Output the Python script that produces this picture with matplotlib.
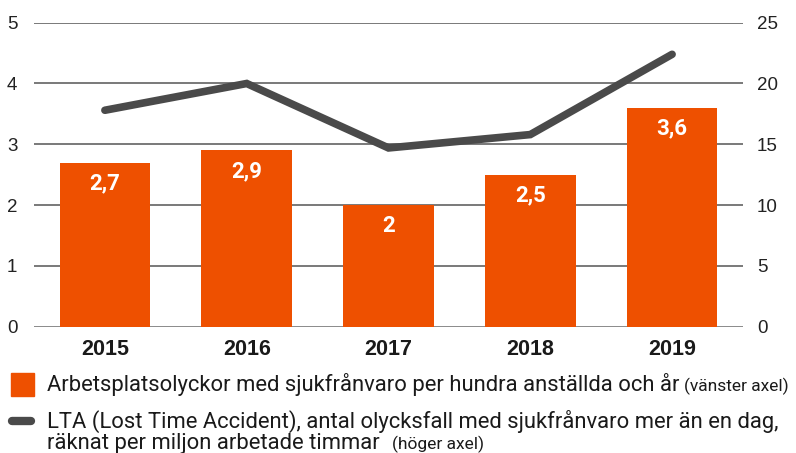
import matplotlib
matplotlib.use("Agg")
import matplotlib.pyplot as plt
from matplotlib.patches import Rectangle
from matplotlib.lines import Line2D

years = ["2015", "2016", "2017", "2018", "2019"]
bar_values = [2.7, 2.9, 2.0, 2.5, 3.6]
bar_labels = ["2,7", "2,9", "2", "2,5", "3,6"]
lta_values = [17.8, 20.0, 14.7, 15.8, 22.4]
left_ticks = [0, 1, 2, 3, 4, 5]
right_ticks = [0, 5, 10, 15, 20, 25]

legend_bar = "Arbetsplatsolyckor med sjukfrånvaro per hundra anställda och år"
legend_bar_note = "(vänster axel)"
legend_line_1 = "LTA (Lost Time Accident), antal olycksfall med sjukfrånvaro mer än en dag,"
legend_line_2 = "räknat per miljon arbetade timmar"
legend_line_note = "(höger axel)"

narrow = "Roboto"
base = "Liberation Sans"

ORANGE = "#EE5000"
GREY = "#4a4a4a"
TXT = "#1a1a1a"

fig = plt.figure(figsize=(7.96, 4.53), dpi=100)
ax = fig.add_axes([34/796, 1-326.7/453, (743-34)/796, (326.7-22.7)/453])
ax2 = ax.twinx()

x = list(range(len(years)))
ax.bar(x, bar_values, width=0.64, color=ORANGE, zorder=2)
for xi, v, lab in zip(x, bar_values, bar_labels):
    ax.annotate(lab, (xi, v), xytext=(0, -21), textcoords="offset pixels",
                ha="center", va="center", color="white", fontsize=16,
                fontweight="bold", family=narrow, zorder=5)

ax.set_xlim(-0.5, 4.5)
ax.set_ylim(0, 5)
ax.set_yticks(left_ticks)
ax.set_yticklabels([str(t) for t in left_ticks])
for t in left_ticks:
    ax.axhline(t, color="#808080" if t == 0 else "#555555",
               lw=2 if t == 0 else 1.1, zorder=1)

ax2.set_ylim(0, 25)
ax2.set_yticks(right_ticks)
ax2.set_yticklabels([str(t) for t in right_ticks])
ax2.plot(x, lta_values, color=GREY, lw=5.5, solid_capstyle="round",
         solid_joinstyle="miter", zorder=3)

ax.set_xticks(x)
ax.set_xticklabels(years, fontsize=15.5, fontweight="bold", family=base, color=TXT)
ax.tick_params(axis="x", length=0, pad=9)
ax.tick_params(axis="y", length=0, pad=12, labelsize=13.5, labelcolor="#222222")
ax2.tick_params(axis="y", length=0, pad=10, labelsize=13.5, labelcolor="#222222")
for a in (ax, ax2):
    for s in a.spines.values():
        s.set_visible(False)
    for lbl in a.get_yticklabels():
        lbl.set_family(base)

# legend
fig.add_artist(Rectangle((11/796, 1-396/453), 23/796, 23/453,
                         transform=fig.transFigure, color=ORANGE))
fig.add_artist(Line2D([12/796, 31/796], [1-421/453, 1-421/453],
                      transform=fig.transFigure, color=GREY, lw=6,
                      solid_capstyle="round"))
t1 = fig.text(47/796, 1-385/453, legend_bar, fontsize=15.8, family=narrow,
              color=TXT, va="center")
t2 = fig.text(47/796, 1-421/453, legend_line_1, fontsize=15.8, family=narrow,
              color=TXT, va="center")
t3 = fig.text(47/796, 1-443/453, legend_line_2, fontsize=15.8, family=narrow,
              color=TXT, va="center")
fig.canvas.draw()
r = fig.canvas.get_renderer()
inv = fig.transFigure.inverted()
e1 = t1.get_window_extent(r)
fig.text(inv.transform((e1.x1 + 5, 0))[0], 1-386/453, legend_bar_note,
         fontsize=12.5, family=narrow, color=TXT, va="center")
e3 = t3.get_window_extent(r)
fig.text(inv.transform((e3.x1 + 12, 0))[0], 1-444/453, legend_line_note,
         fontsize=12.5, family=narrow, color=TXT, va="center")

fig.savefig("out.png", dpi=100)
